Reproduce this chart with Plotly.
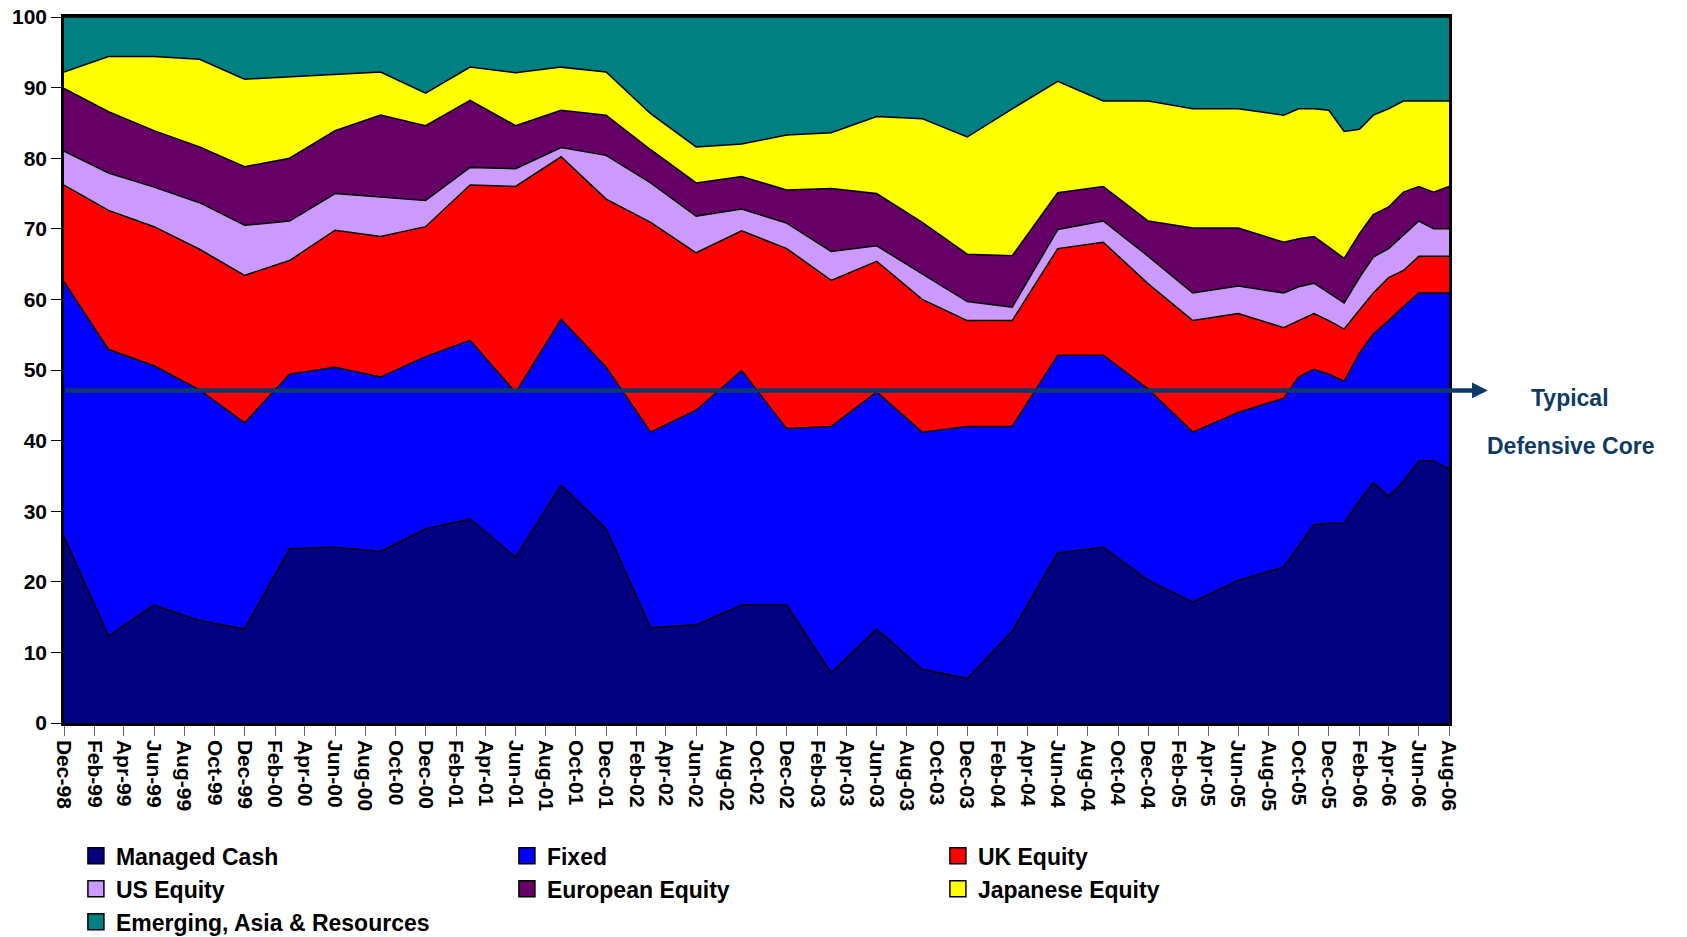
import pandas as pd
import plotly.graph_objects as go

periods = ["Dec-98","Mar-99","Jun-99","Sep-99","Dec-99","Mar-00","Jun-00","Sep-00","Dec-00","Mar-01",
           "Jun-01","Sep-01","Dec-01","Mar-02","Jun-02","Sep-02","Dec-02","Mar-03","Jun-03","Sep-03",
           "Dec-03","Mar-04","Jun-04","Sep-04","Dec-04","Mar-05","Jun-05","Sep-05","Oct-05","Nov-05",
           "Dec-05","Jan-06","Feb-06","Mar-06","Apr-06","May-06","Jun-06","Jul-06","Aug-06"]

managed_cash = [26.4,12.3,16.7,14.5,13.3,24.7,24.9,24.3,27.5,28.9,23.5,33.7,27.5,13.5,13.9,16.7,16.7,7.1,13.3,7.6,
                6.3,13.0,24.1,24.9,20.2,17.1,20.2,22.1,25.0,28.1,28.3,28.3,31.5,34.0,32.1,34.2,37.1,37.1,36.0]
fixed = [36.1,40.6,33.9,32.7,29.2,24.7,25.5,24.7,24.4,25.3,23.3,23.5,22.9,27.7,30.4,33.2,25.0,34.9,33.6,33.6,
         35.7,29.0,28.0,27.2,27.1,24.1,23.8,23.9,24.0,22.0,21.1,20.1,20.9,21.1,24.9,24.8,23.8,23.8,24.9]
uk_equity = [13.7,19.7,19.7,19.9,20.9,16.1,19.4,19.9,18.4,22.0,29.2,23.0,23.8,29.7,22.3,19.8,25.5,20.7,18.5,18.8,
             15.0,15.0,15.1,16.0,14.9,15.8,14.0,10.0,8.0,7.9,7.6,7.4,6.1,5.8,6.1,5.1,5.2,5.2,5.2]
us_equity = [4.8,5.3,5.6,6.6,7.1,5.6,5.2,5.6,3.7,2.5,2.5,1.3,6.2,5.6,5.2,3.1,3.6,4.1,2.2,3.6,
             2.7,1.9,2.7,3.0,3.9,3.9,3.9,4.9,4.8,4.3,3.9,3.7,4.6,5.1,4.1,5.0,5.0,3.9,3.9]
european_equity = [8.9,8.7,8.0,7.9,8.3,8.9,8.9,11.6,10.6,9.5,6.1,5.3,5.7,4.7,4.7,4.6,4.7,8.9,7.4,7.3,
                   6.7,7.3,5.2,4.9,5.0,9.2,8.2,7.2,6.8,6.6,6.5,6.3,6.2,6.0,5.9,6.1,4.9,5.2,6.0]
japanese_equity = [2.3,7.8,10.5,12.4,12.4,11.5,8.0,6.1,4.6,4.7,7.5,6.1,6.1,5.1,5.1,4.6,7.8,7.9,10.9,14.7,
                   16.6,20.8,15.8,12.1,17.0,16.9,16.9,18.0,18.4,18.1,19.4,18.0,14.8,14.1,13.9,12.9,12.1,12.9,12.1]
emerging = [7.8,5.6,5.6,6.0,8.8,8.5,8.1,7.8,10.8,7.1,7.9,7.1,7.8,13.7,18.4,18.0,16.7,16.4,14.1,14.4,
            17.0,13.0,9.1,11.9,11.9,13.0,13.0,13.9,13.0,13.0,13.2,16.2,15.9,13.9,13.0,11.9,11.9,11.9,11.9]

series_names = ["Managed Cash", "Fixed", "UK Equity", "US Equity", "European Equity",
                "Japanese Equity", "Emerging, Asia & Resources"]
series_values = [managed_cash, fixed, uk_equity, us_equity, european_equity, japanese_equity, emerging]
series_colors = ["#000080", "#0000FF", "#FF0000", "#CC99FF", "#660066", "#FFFF00", "#008080"]

core_level = 47.1
core_label_1 = "Typical"
core_label_2 = "Defensive Core"

dates = pd.to_datetime(periods, format="%b-%y")

FONT = "Liberation Sans, Arial, sans-serif"
NAVY_TXT = "#0E3A66"

fig = go.Figure()
for name, vals, col in zip(series_names, series_values, series_colors):
    fig.add_trace(go.Scatter(
        x=dates, y=vals, name=name, mode="lines", stackgroup="one",
        line=dict(color="black", width=1.5), fillcolor=col, showlegend=False,
        hoverinfo="x+y+name"))

for name, col in zip(series_names, series_colors):
    fig.add_trace(go.Scatter(
        x=[None], y=[None], name=name, mode="markers",
        marker=dict(symbol="square", size=16, color=col, line=dict(color="black", width=1.5)),
        showlegend=True))

fig.add_annotation(
    xref="x domain", yref="y", x=1.028, y=core_level,
    axref="x domain", ayref="y", ax=0.0, ay=core_level,
    text="", showarrow=True, arrowhead=2, arrowsize=0.7, arrowwidth=4.5,
    arrowcolor="#0B3A6A", standoff=0, startstandoff=0)

fig.add_annotation(xref="paper", yref="paper", x=1.0874, y=0.460, text=core_label_1,
                   showarrow=False, xanchor="center", yanchor="middle",
                   font=dict(family=FONT, size=23, color=NAVY_TXT, weight="bold"))
fig.add_annotation(xref="paper", yref="paper", x=1.0874, y=0.392, text=core_label_2,
                   showarrow=False, xanchor="center", yanchor="middle",
                   font=dict(family=FONT, size=23, color=NAVY_TXT, weight="bold"))

fig.update_layout(
    width=1687, height=937,
    margin=dict(l=64, r=238, t=17, b=214, autoexpand=False),
    paper_bgcolor="white", plot_bgcolor="white",
    font=dict(family=FONT, color="black"),
    showlegend=True,
    legend=dict(orientation="h", xref="container", yref="container",
                x=0.0450, y=0.1095, xanchor="left", yanchor="top",
                entrywidth=386, entrywidthmode="pixels", traceorder="normal",
                font=dict(family=FONT, size=23, color="black", weight="bold"),
                itemsizing="trace", bgcolor="rgba(0,0,0,0)"),
    xaxis=dict(type="date", range=[dates[0], dates[-1]], tick0="1998-12-01", dtick="M2",
               tickformat="%b-%y", tickangle=90, ticks="outside", ticklen=10, tickcolor="#666",
               tickfont=dict(family=FONT, size=21, color="black", weight="bold"),
               ticklabeloverflow="allow",
               showgrid=False, showline=True, linecolor="black", linewidth=2.5, mirror=True,
               zeroline=False, automargin=False),
    yaxis=dict(range=[0, 100], dtick=10, ticks="outside", ticklen=10, tickcolor="black",
               tickfont=dict(family=FONT, size=21, color="black", weight="bold"),
               ticklabeloverflow="allow",
               showgrid=False, showline=True, linecolor="black", linewidth=2.5, mirror=True,
               zeroline=False, automargin=False),
)

# remove the browser's default 8px body margin so the figure fills the window exactly
fig.write_html("out.html", config={"displayModeBar": False},
               post_script="document.body.style.margin='0px';")
